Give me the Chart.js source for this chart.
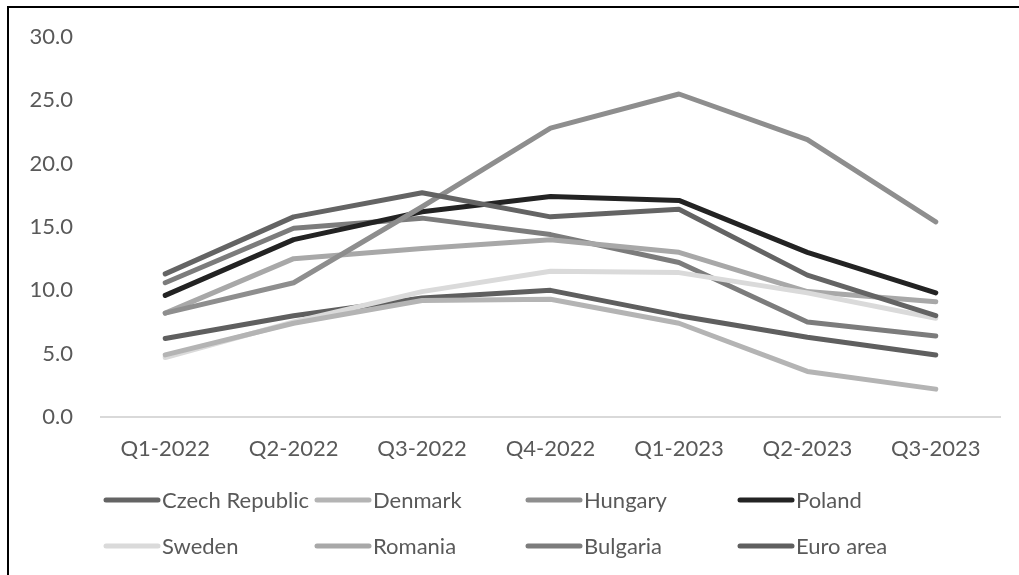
<!DOCTYPE html>
<html>
<head>
<meta charset="utf-8">
<script src="https://cdn.jsdelivr.net/npm/chart.js@4/dist/chart.umd.min.js"></script>
<style>
  html, body { margin: 0; padding: 0; background: #fff; }
  body { width: 1019px; height: 575px; position: relative; overflow: hidden; }
  #frame { position: absolute; left: 7px; top: 6px; width: 1030px; height: 600px;
           border-top: 2px solid #000; border-left: 2px solid #000; box-sizing: border-box; }
  #wrap { position: absolute; left: 0; top: 0; width: 1019px; height: 575px; }
</style>
</head>
<body>
<div id="frame"></div>
<div id="wrap"><canvas id="c" width="1019" height="575"></canvas></div>
<script>
// Quarterly inflation, %, by country
const quarters = ['Q1-2022', 'Q2-2022', 'Q3-2022', 'Q4-2022', 'Q1-2023', 'Q2-2023', 'Q3-2023'];
const czech    = [11.3, 15.8, 17.7, 15.8, 16.4, 11.2, 8.0];
const denmark  = [4.9, 7.4, 9.2, 9.3, 7.4, 3.6, 2.2];
const hungary  = [8.2, 10.6, 16.6, 22.8, 25.5, 21.9, 15.4];
const poland   = [9.6, 14.0, 16.2, 17.4, 17.1, 13.0, 9.8];
const sweden   = [4.7, 7.5, 9.9, 11.5, 11.4, 9.8, 7.8];
const romania  = [8.2, 12.5, 13.3, 14.0, 13.0, 9.9, 9.1];
const bulgaria = [10.6, 14.9, 15.7, 14.4, 12.2, 7.5, 6.4];
const euroArea = [6.2, 8.0, 9.4, 10.0, 8.0, 6.3, 4.9];
const yTicks   = [0, 5, 10, 15, 20, 25, 30];

const FONT = 'Lato';
const FONT_SIZE = 22;
const TEXT = '#595959';

const series = [
  ['Czech Republic', czech,    '#646464'],
  ['Denmark',        denmark,  '#b4b4b4'],
  ['Hungary',        hungary,  '#8e8e8e'],
  ['Poland',         poland,   '#232323'],
  ['Sweden',         sweden,   '#dadada'],
  ['Romania',        romania,  '#a8a8a8'],
  ['Bulgaria',       bulgaria, '#7c7c7c'],
  ['Euro area',      euroArea, '#5f5f5f']
];

// Legend laid out as a fixed 4-column grid under the axis
const gridLegend = {
  id: 'gridLegend',
  afterDraw(chart) {
    const ctx = chart.ctx;
    const cols = [106, 317, 528, 740];
    const rows = [500, 546];
    ctx.save();
    ctx.font = FONT_SIZE + 'px ' + FONT;
    ctx.textBaseline = 'middle';
    ctx.textAlign = 'left';
    chart.data.datasets.forEach((ds, i) => {
      const x = cols[i % 4];
      const y = rows[Math.floor(i / 4)];
      ctx.strokeStyle = ds.borderColor;
      ctx.lineWidth = 5;
      ctx.lineCap = 'round';
      ctx.beginPath();
      ctx.moveTo(x, y);
      ctx.lineTo(x + 52, y);
      ctx.stroke();
      ctx.fillStyle = TEXT;
      ctx.fillText(ds.label, x + 56, y + 1);
    });
    ctx.restore();
  }
};

new Chart(document.getElementById('c'), {
  type: 'line',
  data: {
    labels: quarters,
    datasets: series.map(([label, data, color]) => ({
      label, data,
      borderColor: color,
      backgroundColor: color,
      borderWidth: 5,
      borderCapStyle: 'round',
      borderJoinStyle: 'round',
      pointRadius: 0,
      pointHoverRadius: 0,
      tension: 0,
      fill: false
    }))
  },
  options: {
    responsive: false,
    animation: false,
    layout: { padding: { left: 0, top: 37, right: 19, bottom: 0 } },
    plugins: { legend: { display: false }, tooltip: { enabled: false } },
    scales: {
      x: {
        offset: true,
        grid: { display: false, drawTicks: false },
        border: { display: true, color: '#d9d9d9', width: 2 },
        ticks: { color: TEXT, font: { family: FONT, size: FONT_SIZE }, padding: 19, maxRotation: 0, autoSkip: false },
        afterFit(s) { s.height = 158; s.paddingTop = 0; s.paddingBottom = 0; }
      },
      y: {
        min: 0, max: 30,
        afterBuildTicks(s) { s.ticks = yTicks.map(v => ({ value: v })); },
        grid: { display: false, drawTicks: false },
        border: { display: false },
        ticks: { color: TEXT, font: { family: FONT, size: FONT_SIZE }, padding: 28,
                 callback: v => Number(v).toFixed(1) },
        afterFit(s) { s.width = 101; s.paddingTop = 0; s.paddingBottom = 0; }
      }
    }
  },
  plugins: [gridLegend]
});
</script>
</body>
</html>
